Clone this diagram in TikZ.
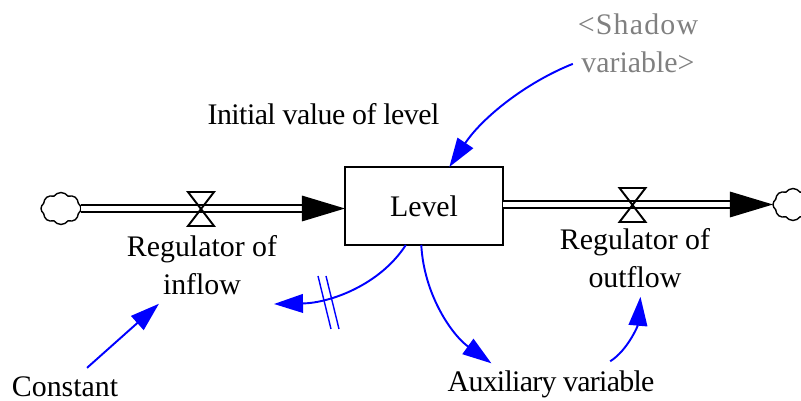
\documentclass[tikz,border=0pt]{standalone}
\usepackage{fontspec}
\setmainfont{Liberation Serif}
\usetikzlibrary{arrows.meta,shapes.symbols}
\tikzset{
  label/.style={inner sep=5pt,align=center,font=\fontsize{17}{21.6}\selectfont},
  stock/.style={draw,line width=1.1pt,outer sep=0pt,minimum width=158*0.569pt,minimum height=78*0.569pt,inner sep=0pt,font=\fontsize{17}{21.6}\selectfont},
  source/.style={draw,line width=0.8pt,outer sep=0pt,cloud,cloud puffs=8,cloud puff arc=110,aspect=1.3,inner sep=0pt,minimum width=40*0.569pt,minimum height=32*0.569pt},
  pipe/.style={line width=1.25pt,double,double distance=3pt,-{Triangle[length=24.5pt,width=14.4pt]}},
  link/.style={blue,line width=1.1pt,-{Triangle[length=16.5pt,width=10.6pt]}},
  valve/.pic={\draw [line width=1.1pt] (-13,-17) -- (13,-17) -- (-13,17) -- (13,17) -- cycle;}
}
\begin{document}
\begin{tikzpicture}[x=0.02cm,y=0.02cm]
              \useasboundingbox (0,0) rectangle (801,-401);
              \node (level) [stock] at (424,-206) {Level};
              \node (cloudin) [source] at (61,-208.5) {};
              \node (cloudout) [source] at (793,-204.5) {};
              \node (initial) [label] at (323.5,-114) {\addfontfeatures{LetterSpace=-1.8}Initial value of level};
              \node (shadow) [label,text=gray] at (638,-43) {{\addfontfeatures{LetterSpace=4}<Shadow}\\variable>};
              \node (inflow) [label] at (202,-265) {Regulator of\\inflow};
              \node (outflow) [label] at (635,-258) {Regulator of\\outflow};
              \node (constant) [label] at (65,-387) {Constant};
              \node (auxiliary) [label] at (551,-384) {\addfontfeatures{LetterSpace=-2.4}Auxiliary variable};
              \coordinate (delayend) at (274,-304);
              % flows
              \draw [pipe] (cloudin.east) -- (level.west |- cloudin.east);
              \draw [pipe] (level.east |- cloudout.west) -- (cloudout.west);
              \pic at (201,-209) {valve};
              \pic at (632.5,-205) {valve};
              % links
              \draw [link,shorten <=-2.5pt] (shadow.198) .. controls (525,-83) and (482,-118) .. (level.57);
              \draw [link] (level.245) .. controls (380,-285) and (330,-303) .. (delayend);
              \draw [link,shorten >=-2pt] (level.266) .. controls (424,-295) and (452,-335) .. (auxiliary.160.5);
              \draw [link] (constant.41) -- (inflow.222);
              \draw [link] (auxiliary.21) .. controls (628,-350) and (638,-325) .. (outflow.278);
              % delay mark
              \draw [blue,line width=0.8pt] (318,-276) -- (331,-329);
              \draw [blue,line width=0.8pt] (326,-276) -- (339,-329);
\end{tikzpicture}
\end{document}
